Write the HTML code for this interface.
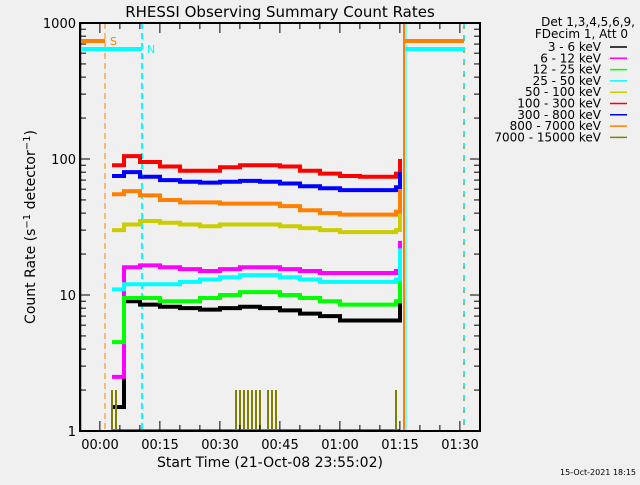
<!DOCTYPE html>
<html><head><meta charset="utf-8"><style>
body{margin:0;background:#f0f0f0;}
svg text{font-family:"DejaVu Sans","Liberation Sans",sans-serif;}
</style></head><body>
<svg id="c" width="640" height="480" xmlns="http://www.w3.org/2000/svg">
<rect width="640" height="480" fill="#f0f0f0"/>
<text x="280" y="17" font-size="15" text-anchor="middle">RHESSI Observing Summary Count Rates</text>
<g id="plot"></g>
<text x="270" y="467" font-size="14" text-anchor="middle">Start Time (21-Oct-08 23:55:02)</text>
<text transform="translate(35,227) rotate(-90)" font-size="14" text-anchor="middle">Count Rate (s<tspan dy="-5" font-size="10">−1</tspan><tspan dy="5"> detector</tspan><tspan dy="-5" font-size="10">−1</tspan><tspan dy="5">)</tspan></text>
<text x="636" y="475" font-size="8" text-anchor="end">15-Oct-2021 18:15</text>
<g id="legend"></g>
</svg>
<script>
const times=[8,11,15,20,25,30,35,40,45,50,55,60,65,70,75,79,80];
const red=[90,105,95,88,82,82,87,90,90,88,82,78,75,74,74,78,100];
const blue=[75,80,74,70,68,67,68,69,68,66,63,61,59,59,59,62,80];
const orange=[55,58,54,50,48,48,47,47,47,45,42,40,39,39,39,41,60];
const yellow=[30,33,35,34,33,32,33,33,33,32,31,30,29,29,29,30,40];
const magenta=[2.5,16,16.5,16,15.5,15,15.5,16,16,15.5,15,14.5,14.5,14.5,14.5,15,25];
const cyan=[11,12,12,12,12.5,13,13.5,14,14,13.5,13,12.5,12.5,12.5,12.5,13,22];
const green=[4.5,9.5,9.5,9,9,9.5,10,10.5,10.5,10,9.5,9,8.5,8.5,8.5,9,18];
const black=[1.5,9,8.5,8.2,8,7.8,8,8.2,8,7.7,7.3,7,6.5,6.5,6.5,6.5,12];
const oliveSpikeTimes=[8,9,39,40,41,42,43,44,45,47,48,49,79];
const oliveSpikeValues=[2,2,2,2,2,2,2,2,2,2,2,2,2];
const xTickLabels=["00:00","00:15","00:30","00:45","01:00","01:15","01:30"];
const yTickValues=[1,10,100,1000];
const legendLabels=["3 - 6 keV","6 - 12 keV","12 - 25 keV","25 - 50 keV","50 - 100 keV","100 - 300 keV","300 - 800 keV","800 - 7000 keV","7000 - 15000 keV"];
const legendColors=["#000","#ff00ff","#00ff00","#00ffff","#cccc00","#ff0000","#0000ff","#ff8000","#808000"];

const NS="http://www.w3.org/2000/svg";
const L=80,R=480,T=23,B=431;
const X=t=>L+t*4;
const Y=v=>B-(B-T)/3*Math.log10(v);
const g=document.getElementById('plot');
function el(tag,a,p){const e=document.createElementNS(NS,tag);for(const k in a)e.setAttribute(k,a[k]);(p||g).appendChild(e);return e;}

// shading lines / attenuator/ night bars
let e;
e=el('line',{x1:X(0)+1,y1:T,x2:X(0)+1,y2:B,stroke:'#00ffff','stroke-width':2});

e=el('line',{x1:105,y1:T,x2:105,y2:B,stroke:'#ff8000','stroke-dasharray':'6,4'});

e=el('line',{x1:142,y1:T,x2:142,y2:B,stroke:'#00ffff','stroke-width':2,'stroke-dasharray':'6,4'});

e=el('line',{x1:404,y1:T,x2:404,y2:B,stroke:'#ff8000','stroke-width':2});

e=el('line',{x1:406,y1:T,x2:406,y2:B,stroke:'#00ffff','stroke-width':1});

e=el('line',{x1:464,y1:T,x2:464,y2:B,stroke:'#00ffff','stroke-width':2,'stroke-dasharray':'6,6'});

e=el('line',{x1:464,y1:T+3,x2:464,y2:B,stroke:'#ff8000','stroke-width':1,'stroke-dasharray':'3,9'});

e=el('rect',{x:81,y:39,width:24,height:4,fill:'#ff8000'});

e=el('rect',{x:81,y:47,width:61,height:4,fill:'#00ffff'});

e=el('rect',{x:405,y:39,width:59,height:4,fill:'#ff8000'});

e=el('rect',{x:405,y:47,width:59,height:4,fill:'#00ffff'});

e=el('text',{x:110,y:45,fill:'#ff8000','font-size':11});e.textContent='S';

e=el('text',{x:147,y:53,fill:'#00ffff','font-size':11});e.textContent='N';


// series
const series=[[black,'#000','series-3-6kev'],[magenta,'#ff00ff','series-6-12kev'],[green,'#00ff00','series-12-25kev'],[cyan,'#00ffff','series-25-50kev'],[yellow,'#cccc00','series-50-100kev'],[red,'#ff0000','series-100-300kev'],[blue,'#0000ff','series-300-800kev'],[orange,'#ff8000','series-800-7000kev']];
series.forEach(s=>{
  let d='';
  s[0].forEach((v,i)=>{d+=(i?'L':'M')+X(times[i])+','+Y(v)+(i<times.length-1?'H'+X(times[i+1]):'');});
  const p=el('path',{d:d,fill:'none',stroke:s[1],'stroke-width':4});
  
  
});
// olive baseline + spikes
let od='M'+X(times[0])+','+(B-1)+'H'+X(times[times.length-1]);
oliveSpikeTimes.forEach((t,i)=>{od+='M'+X(t)+','+(B-1)+'V'+Y(oliveSpikeValues[i]);});
e=el('path',{d:od,fill:'none',stroke:'#808000','stroke-width':2});


// frame & ticks
e=el('rect',{x:L,y:T,width:R-L,height:B-T,fill:'none',stroke:'#000','stroke-width':2});

for(let m=5;m<100;m+=5){const x=X(m-0.03);const len=((m-5)%15===0)?10:6;
  el('line',{x1:x,y1:B,x2:x,y2:B-len,stroke:'#000'});el('line',{x1:x,y1:T,x2:x,y2:T+len,stroke:'#000'});}
xTickLabels.forEach((s,i)=>{e=el('text',{x:X(5+15*i),y:449,'font-size':13,'text-anchor':'middle'});e.textContent=s;
  });
yTickValues.forEach(v=>{e=el('text',{x:L-4,y:Y(v)+5,'font-size':13,'text-anchor':'end'});e.textContent=v;
  
  if(v<1000)for(let k=2;k<10;k++){const y=Y(v*k);el('line',{x1:L,y1:y,x2:L+6,y2:y,stroke:'#000'});el('line',{x1:R,y1:y,x2:R-6,y2:y,stroke:'#000'});}
  el('line',{x1:L,y1:Y(v),x2:L+10,y2:Y(v),stroke:'#000'});el('line',{x1:R,y1:Y(v),x2:R-10,y2:Y(v),stroke:'#000'});
});

// legend
const lg=document.getElementById('legend');
e=el('text',{x:635,y:26,'font-size':12,'text-anchor':'end'},lg);e.textContent='Det 1,3,4,5,6,9,';
e=el('text',{x:628,y:38,'font-size':12,'text-anchor':'end'},lg);e.textContent='FDecim 1, Att 0';
legendLabels.forEach((s,i)=>{const y=51+i*11.3;
  e=el('text',{x:601,y:y,'font-size':12,'text-anchor':'end'},lg);e.textContent=s;
  
  el('line',{x1:610,y1:y-4,x2:627,y2:y-4,stroke:legendColors[i],'stroke-width':1.5},lg);});
</script>
</body></html>
